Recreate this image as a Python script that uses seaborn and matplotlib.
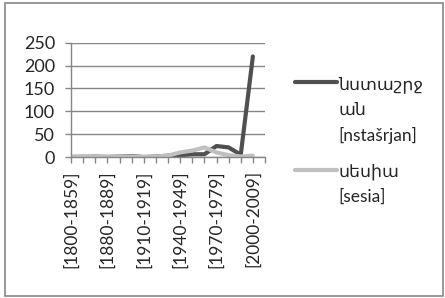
import numpy as np
import pandas as pd
import matplotlib
matplotlib.use("Agg")
import matplotlib.pyplot as plt
import seaborn as sns
from matplotlib.lines import Line2D

categories = ["[1800-1859]", "[1860-1869]", "[1870-1879]", "[1880-1889]", "[1890-1899]",
              "[1900-1909]", "[1910-1919]", "[1920-1929]", "[1930-1939]", "[1940-1949]",
              "[1950-1959]", "[1960-1969]", "[1970-1979]", "[1980-1989]", "[1990-1999]",
              "[2000-2009]", "[2010-2019]"]
nstasrjan = [0, 0, 1, 0, 1, 2, 0, 1, 3, 4, 6, 6, 24, 21, 5, 220, np.nan]
sesia = [1, 2, 1, 1, 1, 1, 0, 1, 3, 10, 14, 21, 10, 4, 1, 3, np.nan]
series_names = ["նստաշրջ\nան\n[nstašrjan]", "սեսիա\n[sesia]"]
series_colors = ["#505050", "#c0c0c0"]
yticks = [0, 50, 100, 150, 200, 250]

sns.set_style("white")
plt.rcParams["font.family"] = ["Lato", "DejaVu Sans"]

W, H = 445, 298
fig = plt.figure(figsize=(W / 100, H / 100), dpi=100)
ax = fig.add_axes([71 / W, 1 - 157 / H, (265 - 71) / W, (157 - 42.7) / H])

df = pd.DataFrame({"cat": categories * 2,
                   "x": list(range(len(categories))) * 2,
                   "value": nstasrjan + sesia,
                   "series": [series_names[0]] * len(categories) + [series_names[1]] * len(categories)})
sns.lineplot(data=df, x="x", y="value", hue="series", palette=series_colors,
             hue_order=series_names, linewidth=3.0, ax=ax, legend=False, sort=False)

ax.set_xlim(0, len(categories) - 1)
ax.set_ylim(0, 250)
ax.set_yticks(yticks)
ax.set_yticklabels([str(v) for v in yticks], fontsize=13)
ax.set_xticks(range(len(categories)))
ax.set_xticklabels([c if i % 3 == 0 and i < 16 else "" for i, c in enumerate(categories)],
                   rotation=90, fontsize=12.5)
ax.set_xlabel("")
ax.set_ylabel("")
ax.grid(axis="y", color="#868686", linewidth=1.0)
ax.set_axisbelow(True)
for s in ["top", "right"]:
    ax.spines[s].set_visible(False)
for s in ["left", "bottom"]:
    ax.spines[s].set_color("#868686")
    ax.spines[s].set_linewidth(1.0)
ax.tick_params(axis="both", direction="out", length=4.5, width=1.0, color="#868686",
               bottom=True, left=True)
ax.tick_params(axis="y", pad=7)
ax.tick_params(axis="x", pad=5)

handles = [Line2D([0], [0], color=c, linewidth=3.0) for c in series_colors]
leg = fig.legend(handles, series_names, loc="upper left",
                 bbox_to_anchor=(295 / W, 1 - 76 / H), frameon=False,
                 borderpad=0, borderaxespad=0, handlelength=2.4, handletextpad=0.1,
                 labelspacing=1.15, fontsize=12.5)
for t in leg.get_texts():
    t.set_linespacing(1.66)
for col in leg._legend_handle_box.get_children():
    for item in col.get_children():
        item.align = "top"

fig.add_artist(plt.Rectangle((4.5 / W, 1 - 296 / H), (443 - 4.5) / W, (296 - 3) / H,
                             transform=fig.transFigure, fill=False,
                             edgecolor="#868686", linewidth=1.2))

fig.savefig("out.png", dpi=100)
